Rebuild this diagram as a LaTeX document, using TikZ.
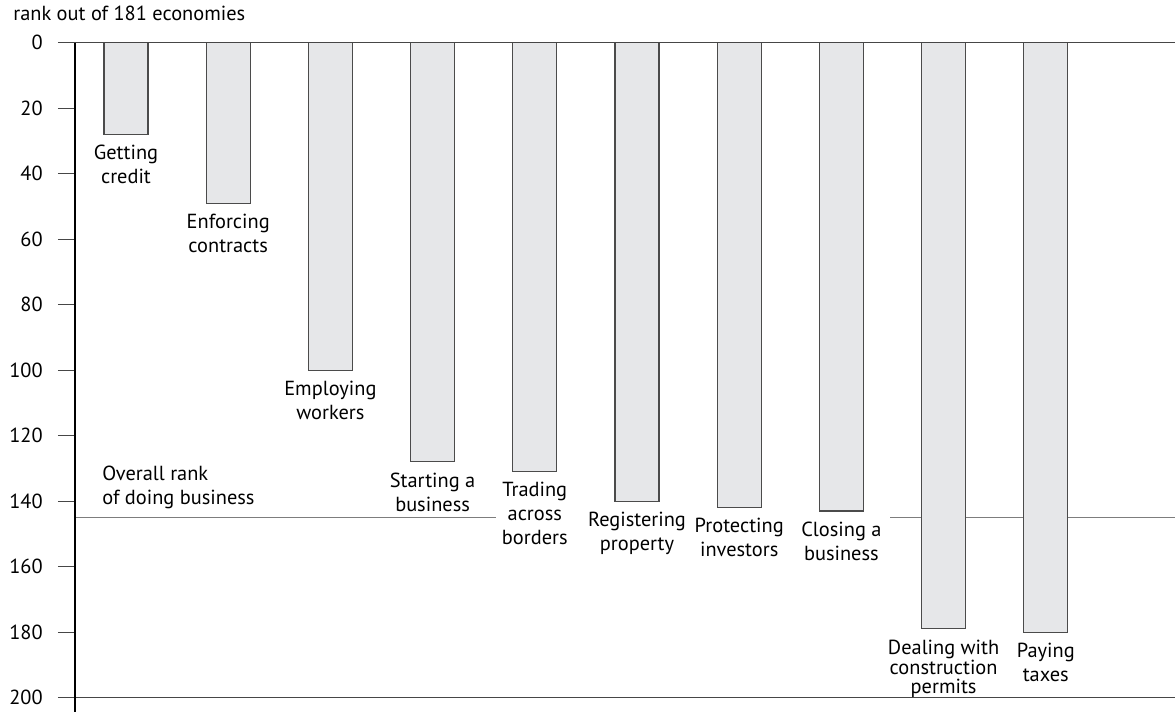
\documentclass[tikz,border=0pt]{standalone}
\usepackage{fontspec}
\setmainfont{PT Sans}
\definecolor{barfill}{RGB}{230,231,233}
\definecolor{baredge}{RGB}{75,75,75}
\definecolor{gridline}{RGB}{70,70,70}
\definecolor{rankline}{RGB}{125,125,125}

\begin{document}
\begin{tikzpicture}[x=0.02cm, y=-0.0655cm, font=\fontsize{11.6}{13.6}\selectfont]
    \useasboundingbox (-75,-13.04) rectangle (1100,204.4);
    % overall rank
    \draw[rankline, line width=0.7pt] (0,145) -- (421,145);
    \draw[rankline, line width=0.7pt] (815,145) -- (1100,145);
    \node[anchor=south west, inner sep=0, align=left] (overall) at (27,142.3) {Overall rank\\of doing business};
    % bars
    \foreach \i/\r/\lsk/\txt in {1/28/13.6/{Getting\\credit}, 2/49/13.6/{Enforcing\\contracts},
        3/100/13.6/{Employing\\workers}, 4/128/13.6/{Starting a\\business},
        5/131/13.6/{Trading\\across\\borders}, 6/140/13.6/{Registering\\property},
        7/142/13.6/{Protecting\\investors}, 8/143/13.6/{Closing a\\business},
        9/179/10.6/{Dealing with\\construction\\permits}, 10/180/13.6/{Paying\\taxes}} {
        \draw[baredge, fill=barfill, line width=0.6pt] ({51+102.2*(\i-1)-22},0) rectangle ({51+102.2*(\i-1)+22},\r);
        \node[anchor=north, inner sep=0, align=center, font=\fontsize{11.6}{\lsk}\selectfont] (bar\i) at ({51+102.2*(\i-1)},\r+3.2) {\txt};
    }
    % axis
    \draw[gridline, line width=0.6pt] (-17,0) -- (1100,0);
    \draw[gridline, line width=0.6pt] (-17,200) -- (1100,200);
    \foreach \r in {20,40,...,180}
        \draw[gridline, line width=0.6pt] (-17,\r) -- (0,\r);
    \foreach \r in {0,20,...,200}
        \node[anchor=east, inner sep=0] (tick\r) at (-32,\r) {\r};
    \draw[black, line width=0.6pt] (0,0) -- (0,204.4);
    \node[anchor=base west, inner sep=0] (title) at (-62,-6.9) {rank out of 181 economies};
\end{tikzpicture}
\end{document}
